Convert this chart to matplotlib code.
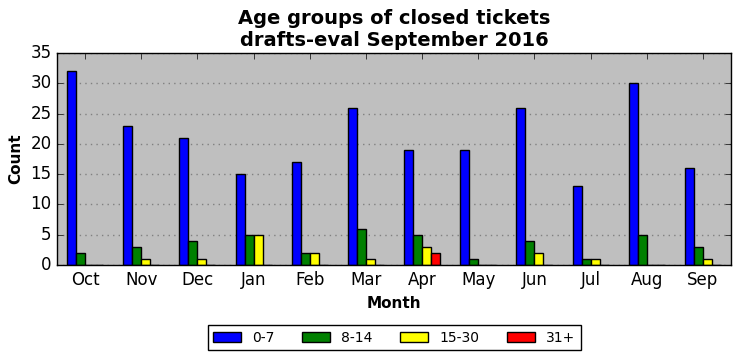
import numpy as np
import matplotlib
matplotlib.use("Agg")
import matplotlib.pyplot as plt

plt.style.use('classic')

months = ['Oct', 'Nov', 'Dec', 'Jan', 'Feb', 'Mar', 'Apr', 'May', 'Jun', 'Jul', 'Aug', 'Sep']
age_0_7 = [32, 23, 21, 15, 17, 26, 19, 19, 26, 13, 30, 16]
age_8_14 = [2, 3, 4, 5, 2, 6, 5, 1, 4, 1, 5, 3]
age_15_30 = [0, 1, 1, 5, 2, 1, 3, 0, 2, 1, 0, 1]
age_31_plus = [0, 0, 0, 0, 0, 0, 2, 0, 0, 0, 0, 0]

series = [('0-7', age_0_7, 'blue'),
          ('8-14', age_8_14, 'green'),
          ('15-30', age_15_30, 'yellow'),
          ('31+', age_31_plus, 'red')]

fig = plt.figure(figsize=(7.41, 3.61), dpi=100, facecolor='white')
ax = fig.add_axes([57 / 741, 1 - 265 / 361, 674 / 741, 212 / 361])
ax.set_facecolor('#bfbfbf')

x = np.arange(len(months))
w = 0.16
for i, (name, vals, col) in enumerate(series):
    ax.bar(x + (i - 2) * w, vals, width=w, align='edge', color=col,
           edgecolor='black', linewidth=1, label=name)

ax.set_xlim(-0.5, len(months) - 0.5)
ax.set_ylim(0, 35)
ax.set_xticks(x)
ax.set_xticklabels(months, fontsize=12)
ax.tick_params(axis='y', labelsize=12)
ax.yaxis.grid(True, linestyle=':', color='#808080', linewidth=1)
ax.set_axisbelow(True)

ax.set_xlabel('Month', fontsize=11, fontweight='bold')
ax.set_ylabel('Count', fontsize=11, fontweight='bold')
ax.set_title('Age groups of closed tickets\ndrafts-eval September 2016',
             fontsize=14, fontweight='bold')

ax.legend(loc='upper center', bbox_to_anchor=(0.5, -0.25), ncol=4,
          fontsize=10, frameon=True, handlelength=2, columnspacing=2)

fig.savefig('out.png', dpi=100, facecolor='white')
